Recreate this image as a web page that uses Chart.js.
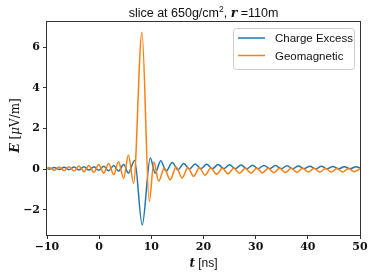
<!DOCTYPE html>
<html>
<head>
<meta charset="utf-8">
<script src="https://cdn.jsdelivr.net/npm/chart.js@4.4.0/dist/chart.umd.min.js"></script>
<style>
html, body { margin: 0; padding: 0; background: #fff; }
canvas { display: block; }
</style>
</head>
<body>
<canvas id="chart" width="374" height="275"></canvas>
<script>
// series (t in ns, E in uV/m)
const seriesNames = ['Charge Excess', 'Geomagnetic'];

const chargeT = [-10, -9.6, -8.6, -7.7, -6.7, -5.8, -4.8, -3.9, -2.9, -2.0, -1.0, -0.1, 0.9, 1.8, 2.8, 3.7, 4.7, 5.6, 6.8,
  8.25, 9.8, 10.75, 11.8, 12.85, 14.0, 15.1, 16.2, 17.3, 18.4, 19.5, 20.6, 21.7, 22.8, 23.9, 25.0, 26.1, 27.2, 28.3,
  29.4, 30.5, 31.6, 32.7, 33.8, 34.9, 36.0, 37.1, 38.2, 39.3, 40.4, 41.5, 42.6, 43.7, 44.8, 45.9, 47.0, 48.1, 49.2, 50];
const chargeE = [0.04, -0.01, 0.08, -0.02, 0.09, -0.03, 0.1, -0.04, 0.11, -0.05, 0.12, -0.06, 0.14, -0.08, 0.17, -0.1, 0.22, -0.2, 0.42,
  -2.75, 0.55, -0.2, 0.41, -0.1, 0.32, -0.04, 0.28, 0.0, 0.25, 0.02, 0.24, 0.02, 0.22, 0.02, 0.21, 0.02, 0.2, 0.02,
  0.19, 0.02, 0.18, 0.02, 0.17, 0.02, 0.16, 0.02, 0.15, 0.02, 0.14, 0.01, 0.14, 0.01, 0.13, 0.01, 0.12, 0.01, 0.12, 0.05];

const geoT = [-10, -9.6, -8.6, -7.7, -6.7, -5.8, -4.8, -3.9, -2.9, -2.0, -1.0, -0.1, 0.9, 1.8, 2.8, 3.7, 4.7, 5.6, 6.6,
  8.2, 9.6, 10.5, 11.4, 12.5, 13.6, 14.75, 15.9, 17.0, 18.1, 19.2, 20.3, 21.4, 22.5, 23.6, 24.7, 25.8, 26.9, 28.0,
  29.1, 30.2, 31.3, 32.4, 33.5, 34.6, 35.7, 36.8, 37.9, 39.0, 40.1, 41.2, 42.3, 43.4, 44.5, 45.6, 46.7, 47.8, 48.9, 50];
const geoE = [0.02, 0.08, -0.06, 0.1, -0.08, 0.12, -0.1, 0.15, -0.13, 0.18, -0.16, 0.22, -0.2, 0.28, -0.28, 0.36, -0.46, 0.69, -0.7,
  6.75, -1.6, 0.35, -0.6, 0.05, -0.53, 0.1, -0.44, 0.08, -0.36, 0.06, -0.3, 0.05, -0.26, 0.04, -0.23, 0.04, -0.21, 0.04,
  -0.2, 0.04, -0.19, 0.04, -0.18, 0.04, -0.17, 0.04, -0.16, 0.04, -0.15, 0.04, -0.15, 0.03, -0.14, 0.03, -0.14, 0.03, -0.13, 0.02];

const xTicks = [-10, 0, 10, 20, 30, 40, 50];
const yTicks = [-2, 0, 2, 4, 6];
const xRange = [-10, 50];
const yRange = [-3.25, 7.25];

const BLUE = '#1f77b4';
const ORANGE = '#ff7f0e';
const AXIS = '#333';
const SANS = '"Liberation Sans", sans-serif';
const SERIF = '"DejaVu Serif", serif';

function toPoints(ts, vs) {
    return ts.map((t, i) => ({ x: t, y: vs[i] }));
}

function fmtTick(v) {
    return v < 0 ? '\u2212' + Math.abs(v) : String(v);
}

// draw a line of mixed-font text centred on x
function drawRich(ctx, parts, x, y) {
    let total = 0;
    parts.forEach(p => {
        ctx.font = p.font;
        p.w = ctx.measureText(p.text).width;
        total += p.w;
    });
    let cx = x - total / 2;
    parts.forEach(p => {
        ctx.font = p.font;
        ctx.fillText(p.text, cx, y + (p.dy || 0));
        cx += p.w;
    });
}

function roundRect(ctx, x, y, w, h, r) {
    ctx.beginPath();
    ctx.moveTo(x + r, y);
    ctx.lineTo(x + w - r, y);
    ctx.arcTo(x + w, y, x + w, y + r, r);
    ctx.lineTo(x + w, y + h - r);
    ctx.arcTo(x + w, y + h, x + w - r, y + h, r);
    ctx.lineTo(x + r, y + h);
    ctx.arcTo(x, y + h, x, y + h - r, r);
    ctx.lineTo(x, y + r);
    ctx.arcTo(x, y, x + r, y, r);
    ctx.closePath();
}

const decorPlugin = {
    id: 'decor',
    afterDraw(chart) {
        const { ctx, chartArea: a } = chart;
        ctx.save();

        // axes frame
        ctx.strokeStyle = AXIS;
        ctx.lineWidth = 1;
        ctx.strokeRect(a.left - 0.5, a.top - 0.5, a.right - a.left + 1, a.bottom - a.top + 1);

        ctx.fillStyle = '#111';
        ctx.textBaseline = 'alphabetic';
        const midX = (a.left + a.right) / 2;

        // title
        drawRich(ctx, [
            { text: 'slice at 650g/cm', font: '12.5px ' + SANS },
            { text: '2', font: '8.5px ' + SANS, dy: -5 },
            { text: ', ', font: '12.5px ' + SANS },
            { text: 'r', font: 'italic bold 12.5px ' + SERIF },
            { text: ' =110m', font: '12.5px ' + SANS }
        ], midX, 17);

        // x axis title
        drawRich(ctx, [
            { text: 't', font: 'italic bold 12px ' + SERIF },
            { text: ' [ns]', font: '12px ' + SANS }
        ], midX, 267);

        // y axis title
        ctx.save();
        ctx.translate(19, (a.top + a.bottom) / 2 - 3);
        ctx.rotate(-Math.PI / 2);
        drawRich(ctx, [
            { text: 'E', font: 'italic bold 12.5px ' + SERIF },
            { text: ' [', font: '12px ' + SERIF },
            { text: '\u03bc', font: 'italic 12px ' + SERIF },
            { text: 'V/m]', font: '12px ' + SERIF }
        ], 0, 0);
        ctx.restore();

        // legend
        const lx = 233, ly = 28, lw = 121, lh = 41;
        roundRect(ctx, lx + 0.5, ly + 0.5, lw, lh, 3);
        ctx.fillStyle = 'rgba(255,255,255,0.8)';
        ctx.fill();
        ctx.strokeStyle = '#cccccc';
        ctx.stroke();
        const colors = [BLUE, ORANGE];
        const rows = [38, 55.5];
        ctx.font = '11.5px ' + SANS;
        seriesNames.forEach((name, i) => {
            ctx.strokeStyle = colors[i];
            ctx.lineWidth = 1.5;
            ctx.beginPath();
            ctx.moveTo(238, rows[i]);
            ctx.lineTo(265, rows[i]);
            ctx.stroke();
            ctx.fillStyle = '#111';
            ctx.fillText(name, 275, rows[i] + 4);
        });

        ctx.restore();
    }
};

const ctx = document.getElementById('chart').getContext('2d');

new Chart(ctx, {
    type: 'line',
    data: {
        datasets: [
            {
                label: seriesNames[0],
                data: toPoints(chargeT, chargeE),
                borderColor: BLUE,
                borderWidth: 1.5,
                pointRadius: 0,
                fill: false,
                cubicInterpolationMode: 'monotone',
                order: 2
            },
            {
                label: seriesNames[1],
                data: toPoints(geoT, geoE),
                borderColor: ORANGE,
                borderWidth: 1.5,
                pointRadius: 0,
                fill: false,
                cubicInterpolationMode: 'monotone',
                order: 1
            }
        ]
    },
    options: {
        responsive: false,
        animation: false,
        devicePixelRatio: 1,
        layout: { padding: { top: 22, right: 14, left: 0, bottom: 0 } },
        plugins: {
            legend: { display: false },
            title: { display: false },
            tooltip: { enabled: false }
        },
        scales: {
            x: {
                type: 'linear',
                min: xRange[0],
                max: xRange[1],
                afterBuildTicks: s => { s.ticks = xTicks.map(v => ({ value: v })); },
                afterFit: s => { s.height = 40; },
                grid: { drawOnChartArea: false, drawTicks: true, tickLength: 4, color: AXIS },
                border: { display: false },
                ticks: {
                    padding: 2,
                    color: '#111',
                    maxRotation: 0,
                    font: { family: SERIF, size: 11, weight: 'bold' },
                    callback: v => fmtTick(v)
                }
            },
            y: {
                type: 'linear',
                min: yRange[0],
                max: yRange[1],
                afterBuildTicks: s => { s.ticks = yTicks.map(v => ({ value: v })); },
                afterFit: s => { s.width = 47; },
                grid: { drawOnChartArea: false, drawTicks: true, tickLength: 4, color: AXIS },
                border: { display: false },
                ticks: {
                    padding: 3,
                    color: '#111',
                    font: { family: SERIF, size: 11, weight: 'bold' },
                    callback: v => fmtTick(v)
                }
            }
        }
    },
    plugins: [decorPlugin]
});
</script>
</body>
</html>
